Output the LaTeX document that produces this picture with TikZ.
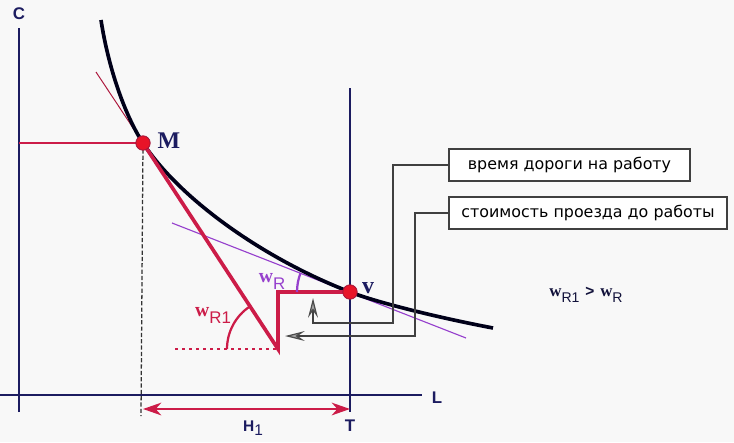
\documentclass[tikz,border=0pt]{standalone}
\usepackage{fontspec}
\setmainfont{Liberation Serif}
\setsansfont{Liberation Sans}
\newfontfamily\boxfont{DejaVu Sans}
\usetikzlibrary{arrows.meta,positioning}
\definecolor{navy}{RGB}{28,28,96}
\definecolor{crim}{RGB}{204,28,72}
\definecolor{dotred}{RGB}{232,20,40}
\definecolor{violet}{RGB}{150,64,205}
\definecolor{paper}{RGB}{248,248,248}
\newcommand{\wsym}[1]{{\fontsize{#1}{#1}\selectfont\bfseries w}}

\begin{document}
\begin{tikzpicture}[x=0.025cm,y=-0.025cm,
  axis/.style={navy,line width=1.4pt},
  guide/.style={navy,line width=1pt},
  budget/.style={crim,line width=2.6pt},
  curve/.style={black!90!blue,line width=2.6pt},
  pt/.style={circle,fill=dotred,draw=crim!80!black,line width=0.6pt,
             minimum size=0.36cm,inner sep=0pt},
  callout/.style={draw=black!75,fill=white,line width=1pt,minimum height=0.8cm,
                  inner sep=2pt,font=\boxfont\fontsize{11.3}{13}\selectfont},
  lead/.style={black!75,line width=0.9pt},
  ptr/.style={-{Stealth[length=14pt,width=7pt,inset=5pt,fill=gray!70,color=black!70]}},
  axlbl/.style={navy,font=\sffamily\bfseries\fontsize{12}{12}\selectfont},
  ptlbl/.style={navy,font=\bfseries\fontsize{17}{17}\selectfont},
]
  \useasboundingbox (0,0) rectangle (734,442);
  \fill[paper] (0,0) rectangle (734,442);

  % Points
  \coordinate (M)  at (143,143);
  \coordinate (V)  at (350,292);
  \coordinate (K)  at (278,349);
  \coordinate (Kt) at (278,292);
  \coordinate (dotL) at (175,349);

  % Axes
  \draw[axis] (19,412) -- (19,28);
  \draw[axis] (0,395) -- (422,395);
  \node[axlbl] (cl) at (19,14) {C};
  \node[axlbl] (ll) at (437,398) {L};
  \draw[guide] (350,88) -- (350,412);
  \node[axlbl] (tl) at (350,426) {T};

  % Levels at M
  \draw[crim,line width=1.6pt] (19,143) -- (M);
  \draw[black!80,line width=0.9pt,dash pattern=on 3pt off 1.5pt] (M) -- (141,416);

  % Tangents
  \draw[crim!85!black,line width=0.7pt] (96,72) -- (M);
  \draw[violet,line width=0.8pt] (172,223) -- (466,338);

  % Indifference curve
  \draw[curve] (101,20) .. controls (108,66) and (124.5,115) .. (M)
    .. controls (179,198) and (262,258) .. (V)
    .. controls (373,301) and (430,316) .. (493,328);

  % Budget line with commuting
  \draw[budget,line join=miter] (M) -- (K) -- (Kt) -- (V);
  \draw[crim,line width=2pt,dash pattern=on 2pt off 3pt] (dotL) -- (K);

  % Angles
  \draw[crim,line width=1.6pt] (227,349) arc[start angle=180,end angle=236.5,radius=51];
  \draw[violet,line width=1.6pt] (297,292) arc[start angle=180,end angle=201.2,radius=53];
  \node[crim,inner sep=0pt] (wr1) at (213,315)
    {\wsym{14}\raisebox{-5pt}{\sffamily\fontsize{12}{12}\selectfont R1}};
  \node[violet,inner sep=0pt] (wr) at (272,281)
    {\wsym{14}\raisebox{-5pt}{\sffamily\fontsize{12}{12}\selectfont R}};

  % Points
  \node[pt] (pM) at (M) {};
  \node[pt] (pV) at (V) {};
  \node[ptlbl] (ml) at (169,141) {M};
  \node[ptlbl] (vl) at (368,288) {v};

  % Callouts
  \node[callout,minimum width=6.03cm] (box1) at (569.5,165) {время дороги на работу};
  \node[callout,minimum width=6.95cm] (box2) at (588,213) {стоимость проезда до работы};
  \coordinate (tA) at (313,298);
  \coordinate (tB) at (285,336);
  \draw[lead,ptr] (box1.west) -| (393,323) -| (tA);
  \draw[lead,ptr] (box2.west) -| (415,336) -- (tB);

  % Width of working time
  \draw[crim,line width=1.6pt,
    {Stealth[length=13pt,width=9pt,inset=4pt]}-{Stealth[length=13pt,width=9pt,inset=4pt]}]
    (143,409) -- (350,409);
  \node[navy,inner sep=0pt] (hl) at (253,428)
    {\sffamily\bfseries\fontsize{11}{11}\selectfont H\raisebox{-3pt}{\mdseries 1}};

  % Comparison
  \node[navy!60!black,inner sep=0pt] (cmp) at (586,295)
    {\wsym{12}\raisebox{-4pt}{\sffamily\fontsize{10}{10}\selectfont R1}\,
     {\sffamily\bfseries\fontsize{11}{11}\selectfont >}\,
     \wsym{12}\raisebox{-4pt}{\sffamily\fontsize{10}{10}\selectfont R}};
\end{tikzpicture}
\end{document}
